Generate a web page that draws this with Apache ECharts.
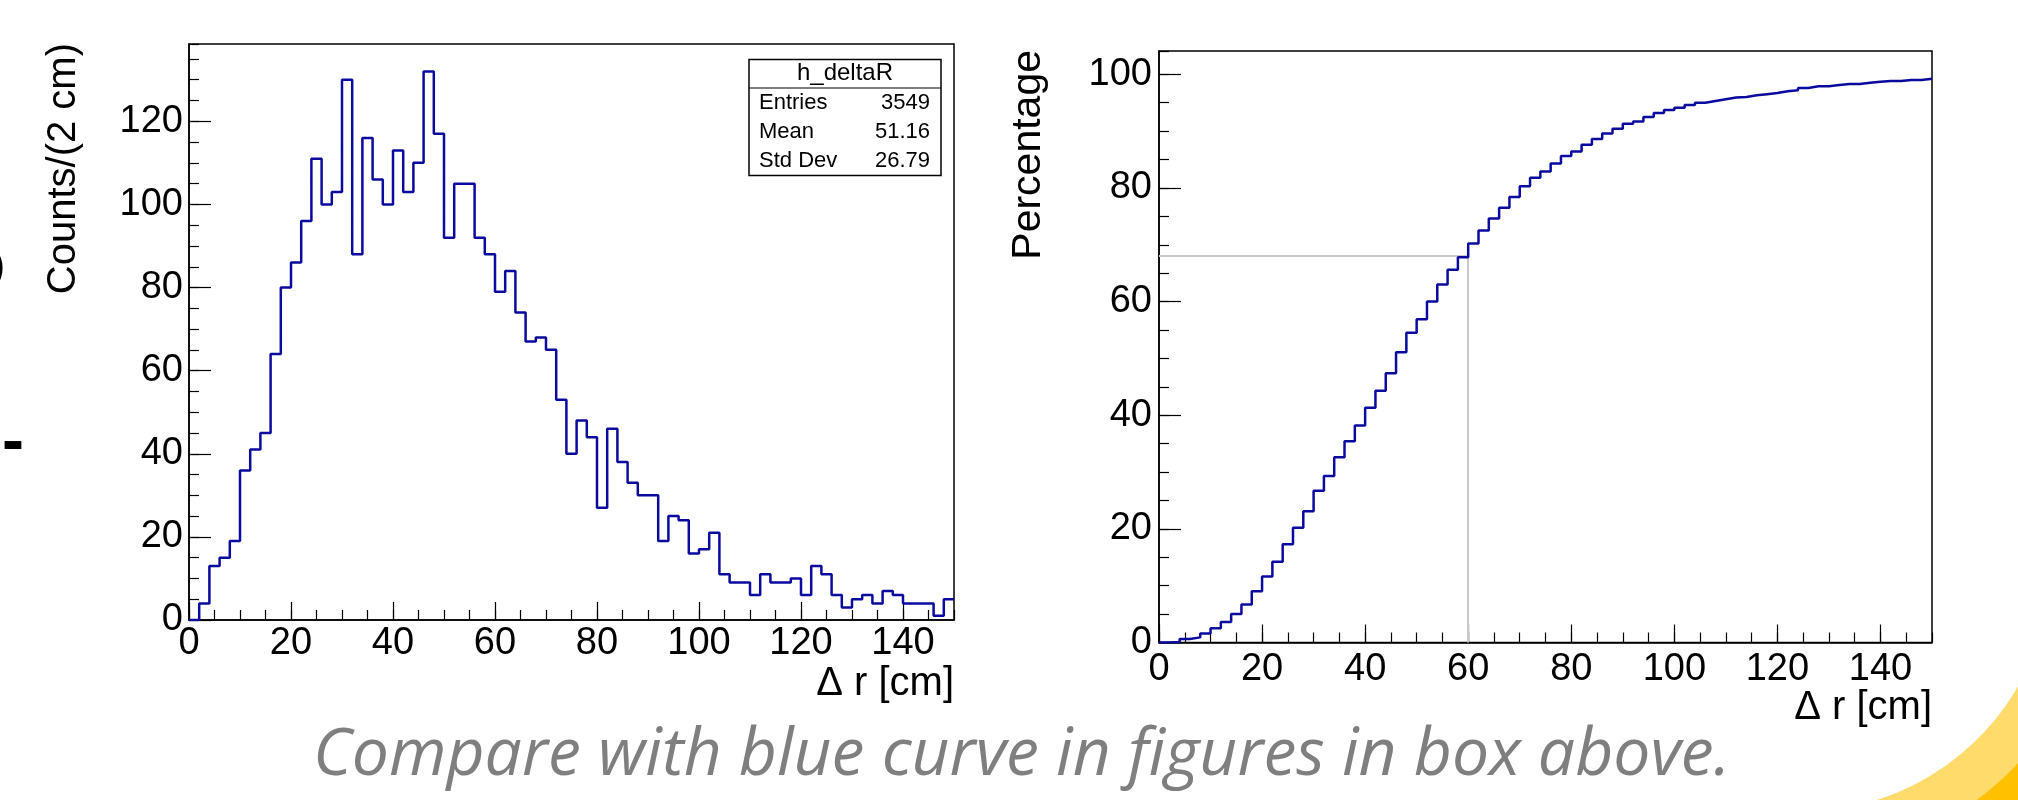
<!DOCTYPE html>
<html>
<head>
<meta charset="utf-8">
<script src="https://cdn.jsdelivr.net/npm/echarts@6/dist/echarts.min.js"></script>
<style>
  html, body { margin: 0; padding: 0; background: #fff; }
  #chart { width: 2018px; height: 800px; }
</style>
</head>
<body>
<div id="chart"></div>
<script>
// low edge of every 2 cm bin
const binLowEdges = [0, 2, 4, 6, 8, 10, 12, 14, 16, 18, 20, 22, 24, 26, 28, 30, 32, 34, 36, 38,
  40, 42, 44, 46, 48, 50, 52, 54, 56, 58, 60, 62, 64, 66, 68, 70, 72, 74, 76, 78,
  80, 82, 84, 86, 88, 90, 92, 94, 96, 98, 100, 102, 104, 106, 108, 110, 112, 114, 116, 118,
  120, 122, 124, 126, 128, 130, 132, 134, 136, 138, 140, 142, 144, 146, 148];
const xUpper = 150;

// h_deltaR, counts per bin
const counts = [0, 4, 13, 15, 19, 36, 41, 45, 64, 80, 86, 96, 111, 100, 103, 130, 88, 116, 106, 100,
  113, 103, 110, 132, 117, 92, 105, 105, 92, 88, 79, 84, 74, 67, 68, 65, 53, 40, 48, 44,
  27, 46, 38, 33, 30, 30, 19, 25, 24, 16, 17, 21, 11, 9, 9, 6, 11, 9, 9, 10,
  6, 13, 11, 6, 3, 5, 6, 4, 7, 6, 4, 4, 4, 1, 5];

// cumulative percentage per bin (right panel)
const percentage = [0.0, 0.1, 0.6, 0.9, 1.6, 2.5, 3.6, 5.0, 6.7, 9.0,
  11.6, 14.2, 17.3, 20.2, 23.1, 26.7, 29.3, 32.6, 35.4, 38.2,
  41.3, 44.3, 47.4, 51.1, 54.5, 56.9, 60.0, 63.0, 65.6, 67.8,
  70.2, 72.5, 74.6, 76.5, 78.4, 80.3, 81.8, 82.9, 84.3, 85.6,
  86.4, 87.6, 88.6, 89.6, 90.4, 91.3, 91.7, 92.5, 93.2, 93.7,
  94.1, 94.6, 95.0, 95.3, 95.6, 95.9, 96.0, 96.3, 96.5, 96.7,
  97.0, 97.2, 97.6, 97.9, 97.9, 98.1, 98.3, 98.3, 98.5, 98.7,
  98.8, 98.8, 99.0, 99.0, 99.2];

// reference crossing drawn in grey
const refX = 60;
const refPct = 68;

const statsTitle = 'h_deltaR';
const statsLabels = ['Entries', 'Mean', 'Std Dev'];
const statsValues = ['3549', '51.16', '26.79'];

const countsMax = 138.6;
const pctMax = 104.1;

const FONT = 'Liberation Sans, Arial, Helvetica, sans-serif';
const LINE_BLUE = '#0a0a9e';

function stepPoints(values) {
  const pts = binLowEdges.map((x, i) => [x, values[i]]);
  pts.push([xUpper, values[values.length - 1]]);
  return pts;
}

function majorX(grid, margin) {
  return {
    type: 'value', gridIndex: grid, position: 'bottom', min: 0, max: xUpper, interval: 20,
    axisLine: { show: true, onZero: false, lineStyle: { color: '#000', width: 1.5 } },
    axisTick: { inside: true, length: 18, lineStyle: { color: '#000', width: 1.2 } },
    axisLabel: { color: '#000', fontSize: 38, fontFamily: FONT, margin: margin, showMaxLabel: false },
    splitLine: { show: false }
  };
}
function minorX(grid) {
  return {
    type: 'value', gridIndex: grid, position: 'bottom', min: 0, max: xUpper, interval: 5,
    axisLine: { show: false, onZero: false },
    axisTick: { inside: true, length: 10, lineStyle: { color: '#000', width: 1.2 } },
    axisLabel: { show: false },
    splitLine: { show: false }
  };
}
function majorY(grid, max, margin) {
  return {
    type: 'value', gridIndex: grid, position: 'left', min: 0, max: max, interval: 20,
    axisLine: { show: true, onZero: false, lineStyle: { color: '#000', width: 1.5 } },
    axisTick: { inside: true, length: 22, lineStyle: { color: '#000', width: 1.2 } },
    axisLabel: { color: '#000', fontSize: 38, fontFamily: FONT, margin: margin, showMaxLabel: false },
    splitLine: { show: false }
  };
}
function minorY(grid, max) {
  return {
    type: 'value', gridIndex: grid, position: 'left', min: 0, max: max, interval: 5,
    axisLine: { show: false, onZero: false },
    axisTick: { inside: true, length: 10, lineStyle: { color: '#000', width: 1.2 } },
    axisLabel: { show: false },
    splitLine: { show: false }
  };
}

// yellow slide decoration in the lower right corner
function cornerPoly(cx, cy, r) {
  const W = 2018, H = 800;
  const a0 = Math.asin((H - cy) / r);
  const a1 = Math.acos((W - cx) / r);
  const pts = [];
  for (let k = 0; k <= 48; k++) {
    const a = a0 + (a1 - a0) * k / 48;
    pts.push([cx + r * Math.cos(a), cy + r * Math.sin(a)]);
  }
  pts.push([W, H]);
  return pts;
}

function txt(x, y, text, extra, style) {
  return Object.assign({
    type: 'text', x: x, y: y, z: 50,
    style: Object.assign({ text: text, fill: '#000', fontFamily: FONT, fontSize: 40 }, style)
  }, extra);
}

const statsBox = { x: 749, y: 59.5, w: 192, h: 116, sep: 88 };
const statsRowY = [103, 131.5, 161];

const graphics = [
  { type: 'polygon', z: -10, shape: { points: cornerPoly(1800, 560, 252) }, style: { fill: '#ffdb6b' } },
  { type: 'polygon', z: -9, shape: { points: cornerPoly(1800, 560, 298) }, style: { fill: '#ffc000' } },
  // cut-off fragments at the slide's left edge
  txt(5, 268, ')', {}, { fontSize: 40, align: 'right', verticalAlign: 'middle' }),
  txt(2, 444, '-', {}, { fontSize: 66, fontWeight: 'bold', align: 'left', verticalAlign: 'middle' }),
  // axis titles
  txt(64, 43, 'Counts/(2 cm)', { rotation: Math.PI / 2 }, { align: 'right', verticalAlign: 'middle' }),
  txt(954, 684, '\u0394 r [cm]', {}, { align: 'right', verticalAlign: 'middle' }),
  txt(1029, 50, 'Percentage', { rotation: Math.PI / 2 }, { fontSize: 41, align: 'right', verticalAlign: 'middle' }),
  txt(1932, 708, '\u0394 r [cm]', {}, { align: 'right', verticalAlign: 'middle' }),
  // stats box
  { type: 'rect', z: 40, shape: { x: statsBox.x, y: statsBox.y, width: statsBox.w, height: statsBox.h },
    style: { fill: '#fff', stroke: '#000', lineWidth: 1.5 } },
  { type: 'line', z: 41, shape: { x1: statsBox.x, y1: statsBox.sep, x2: statsBox.x + statsBox.w, y2: statsBox.sep },
    style: { stroke: '#000', lineWidth: 1.2 } },
  txt(statsBox.x + statsBox.w / 2, 73.5, statsTitle, {}, { fontSize: 24, align: 'center', verticalAlign: 'middle' }),
  // caption
  txt(313, 756, 'Compare with blue curve in figures in box above.', {},
    { fontFamily: 'Open Sans', fontStyle: 'italic', fontSize: 66, fill: '#7f7f7f', align: 'left', verticalAlign: 'middle' })
];
statsLabels.forEach((label, i) => {
  graphics.push(txt(759, statsRowY[i], label, {}, { fontSize: 22, align: 'left', verticalAlign: 'middle' }));
  graphics.push(txt(930, statsRowY[i], statsValues[i], {}, { fontSize: 22, align: 'right', verticalAlign: 'middle' }));
});

const chart = echarts.init(document.getElementById('chart'), null, { renderer: 'canvas' });
chart.setOption({
  animation: false,
  backgroundColor: '#fff',
  grid: [
    { left: 189, top: 44, width: 765, height: 576, show: true, borderColor: '#000', borderWidth: 1.5,
      containLabel: false, outerBoundsMode: 'none' },
    { left: 1159, top: 51, width: 773, height: 591.5, show: true, borderColor: '#000', borderWidth: 1.5,
      containLabel: false, outerBoundsMode: 'none' }
  ],
  xAxis: [majorX(0, 5), minorX(0), majorX(1, 8), minorX(1)],
  yAxis: [majorY(0, countsMax, 6), minorY(0, countsMax), majorY(1, pctMax, 7), minorY(1, pctMax)],
  series: [
    {
      name: 'h_deltaR', type: 'line', step: 'end', xAxisIndex: 0, yAxisIndex: 0,
      data: stepPoints(counts), showSymbol: false, z: 5,
      lineStyle: { color: LINE_BLUE, width: 2.5 }
    },
    {
      name: 'percentage', type: 'line', step: 'end', xAxisIndex: 2, yAxisIndex: 2,
      data: stepPoints(percentage), showSymbol: false, z: 5,
      lineStyle: { color: LINE_BLUE, width: 2.5 },
      markLine: {
        silent: true, symbol: 'none', label: { show: false },
        lineStyle: { color: '#c8c8c8', width: 2, type: 'solid' },
        data: [
          [{ coord: [0, refPct] }, { coord: [refX, refPct] }],
          [{ coord: [refX, 0] }, { coord: [refX, refPct] }]
        ]
      }
    }
  ],
  graphic: graphics
});
</script>
</body>
</html>
